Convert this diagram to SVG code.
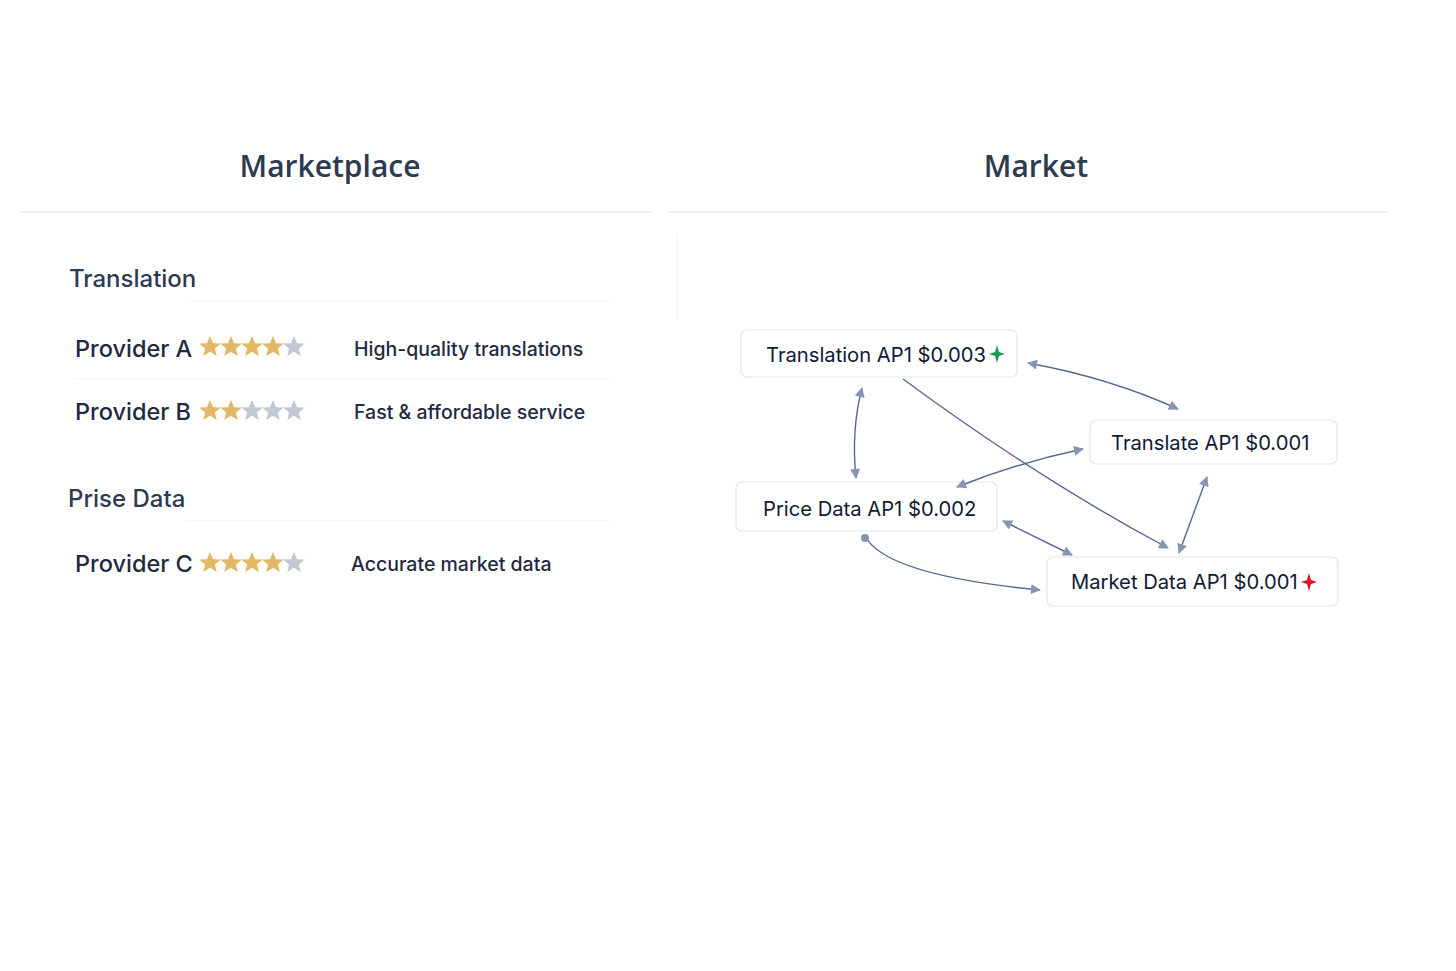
<svg xmlns="http://www.w3.org/2000/svg" width="1456" height="971" viewBox="0 0 1456 971">
<style>
.title{font-family:"Open Sans","Noto Sans",sans-serif;font-size:30px;font-weight:600;fill:#2d3a4f;text-anchor:middle}
.sec{font-family:Inter,"Noto Sans",sans-serif;font-size:24px;font-weight:500;fill:#2d3a4f}
.prov{font-family:Inter,"Noto Sans",sans-serif;font-size:23.5px;font-weight:500;fill:#1f2a40}
.desc{font-family:Inter,"Noto Sans",sans-serif;font-size:19.5px;font-weight:500;fill:#1f2a40}
.node rect{fill:#fff;stroke:#e2e6ec;stroke-width:1.2}
.node text{font-family:Inter,"Noto Sans",sans-serif;font-size:20.2px;font-weight:400;fill:#0f1a33}
.sep{stroke:#e6e8ec;stroke-width:1.5}
.faint{stroke:#f0f1f4;stroke-width:1.2}
.gold{fill:#e2b867}
.grey{fill:#c3c9d4}
.edge{fill:none;stroke:#56698f;stroke-width:1.4}
</style>
<defs>
<polygon id="star" points="0,-11 3.1,-3.8 10.8,-3.4 4.9,1.5 6.8,9 0,4.7 -6.8,9 -4.9,1.5 -10.8,-3.4 -3.1,-3.8"/>
<marker id="ah" viewBox="0 0 10 10" refX="9" refY="5" markerWidth="11" markerHeight="10" markerUnits="userSpaceOnUse" orient="auto-start-reverse">
<path d="M0,0 L10,5 L0,10 Z" fill="#8796b0"/>
</marker>
</defs>
<rect width="1456" height="971" fill="#fff"/>

<g id="headers">
<text class="title" x="330" y="177">Marketplace</text>
<text class="title" x="1036" y="177">Market</text>
<line class="sep" x1="20" y1="212" x2="652" y2="212"/>
<line class="sep" x1="668" y1="212" x2="1388" y2="212"/>
<line class="faint" x1="677" y1="235" x2="677" y2="320"/>
</g>

<g id="marketplace">
<text class="sec" x="69" y="287">Translation</text>
<line class="faint" x1="190" y1="301" x2="610" y2="301"/>
<g id="provider-a">
<text class="prov" x="75" y="357">Provider A</text>
<use href="#star" class="gold" x="210" y="347"/>
<use href="#star" class="gold" x="231" y="347"/>
<use href="#star" class="gold" x="252" y="347"/>
<use href="#star" class="gold" x="273" y="347"/>
<use href="#star" class="grey" x="294" y="347"/>
<text class="desc" x="354" y="356">High-quality translations</text>
</g>
<line class="faint" x1="75" y1="379" x2="612" y2="379"/>
<g id="provider-b">
<text class="prov" x="75" y="420">Provider B</text>
<use href="#star" class="gold" x="210" y="411"/>
<use href="#star" class="gold" x="231" y="411"/>
<use href="#star" class="grey" x="252" y="411"/>
<use href="#star" class="grey" x="273" y="411"/>
<use href="#star" class="grey" x="294" y="411"/>
<text class="desc" x="354" y="419">Fast &amp; affordable service</text>
</g>
<text class="sec" x="68" y="507">Prise Data</text>
<line class="faint" x1="185" y1="521" x2="610" y2="521"/>
<g id="provider-c">
<text class="prov" x="75" y="572">Provider C</text>
<use href="#star" class="gold" x="210" y="563"/>
<use href="#star" class="gold" x="231" y="563"/>
<use href="#star" class="gold" x="252" y="563"/>
<use href="#star" class="gold" x="273" y="563"/>
<use href="#star" class="grey" x="294" y="563"/>
<text class="desc" x="351" y="571">Accurate market data</text>
</g>
</g>

<g id="node-translation-ap1" class="node">
<rect x="741" y="330" width="276" height="47" rx="6"/>
<text x="766" y="362">Translation AP1 $0.003</text>
<path d="M997,345 L999,352 L1005,354 L999,356 L997,363 L995,356 L989,354 L995,352 Z" fill="#1f9a55"/>
</g>
<g id="node-translate-ap1" class="node">
<rect x="1090" y="420" width="247" height="44" rx="6"/>
<text x="1111" y="450">Translate AP1 $0.001</text>
</g>
<g id="node-price-data-ap1" class="node">
<rect x="736" y="482" width="261" height="49" rx="6"/>
<text x="763" y="516">Price Data AP1 $0.002</text>
</g>
<g id="node-market-data-ap1" class="node">
<rect x="1047" y="557" width="291" height="49" rx="6"/>
<text x="1071" y="589">Market Data AP1 $0.001</text>
<path d="M1309,573 L1311,580 L1317,582 L1311,584 L1309,591 L1307,584 L1301,582 L1307,580 Z" fill="#e0141e"/>
</g>

<g id="connectors">
<path class="edge" d="M1028,363 Q1110,378 1178,409" marker-start="url(#ah)" marker-end="url(#ah)"/>
<path class="edge" d="M862,388 Q851,430 856,478" marker-start="url(#ah)" marker-end="url(#ah)"/>
<path class="edge" d="M903,379 Q1040,480 1168,548" marker-end="url(#ah)"/>
<path class="edge" d="M957,487 Q1020,462 1083,449" marker-start="url(#ah)" marker-end="url(#ah)"/>
<path class="edge" d="M1003,521 L1072,555" marker-start="url(#ah)" marker-end="url(#ah)"/>
<path class="edge" d="M865,536 Q885,575 1040,590" marker-end="url(#ah)"/>
<circle cx="865" cy="538" r="4" fill="#8796b0"/>
<path class="edge" d="M1207,477 L1179,553" marker-start="url(#ah)" marker-end="url(#ah)"/>
</g>
</svg>
